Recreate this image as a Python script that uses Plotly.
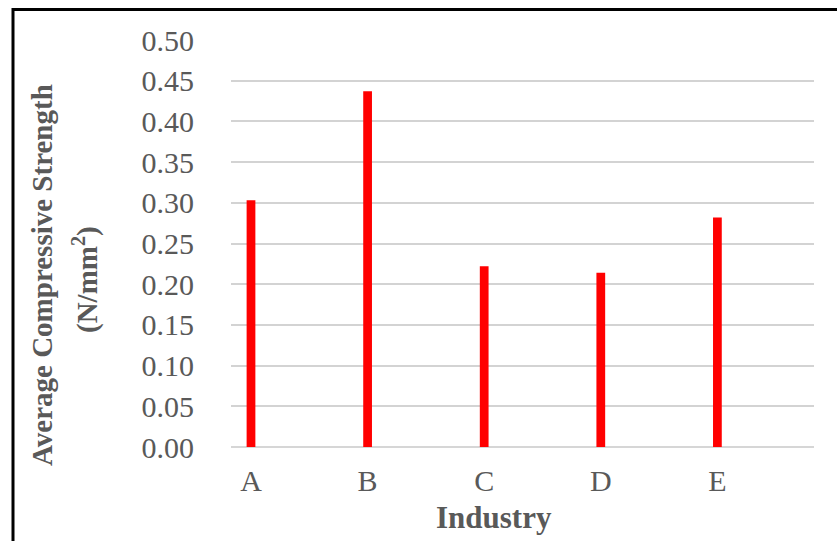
import plotly.graph_objects as go

industries = ["A", "B", "C", "D", "E"]
strength = [0.303, 0.437, 0.222, 0.214, 0.282]
y_ticks = [0.00, 0.05, 0.10, 0.15, 0.20, 0.25, 0.30, 0.35, 0.40, 0.45, 0.50]
y_tick_labels = [f"{v:.2f}" for v in y_ticks]

W, H = 837, 541
L, R, T, B = 231, 814, 40, 447

def px(xp):
    return (xp - L) / (R - L)

def py(yp):
    return (B - yp) / (B - T)

grey = "#595959"
font_family = "Liberation Serif, Times New Roman, serif"

fig = go.Figure()
fig.add_trace(go.Bar(
    x=industries, y=strength,
    marker=dict(color="#FF0000", line=dict(width=0)),
    width=0.075,
))

fig.update_layout(
    width=W, height=H,
    margin=dict(l=L, r=W - R, t=T, b=H - B),
    paper_bgcolor="white", plot_bgcolor="white",
    showlegend=False,
    font=dict(family=font_family, color=grey),
    xaxis=dict(
        type="category",
        range=[-0.1715, 4.8285],
        showgrid=False, zeroline=False, showline=False,
        ticks="", tickfont=dict(size=30, color=grey, family=font_family),
        ticklabelstandoff=13,
    ),
    yaxis=dict(
        range=[0, 0.5],
        tickvals=y_ticks, ticktext=y_tick_labels,
        showgrid=True, gridcolor="#d3d3d3", gridwidth=2,
        zeroline=True, zerolinecolor="#d6d6d6", zerolinewidth=2,
        showline=False, ticks="",
        tickfont=dict(size=30, color=grey, family=font_family),
        ticklabelstandoff=36,
    ),
    annotations=[
        dict(text="<b>Industry</b>", x=px(494), y=py(517), xref="paper", yref="paper",
             showarrow=False, xanchor="center", yanchor="middle",
             font=dict(size=31, color=grey, family=font_family)),
        dict(text="<b>Average Compressive Strength</b>",
             x=px(42), y=py(275), xref="paper", yref="paper", textangle=-90,
             showarrow=False, xanchor="center", yanchor="middle",
             font=dict(size=29, color=grey, family=font_family)),
        dict(text="<b>(N/mm<sup>2</sup>)</b>",
             x=px(85), y=py(280), xref="paper", yref="paper", textangle=-90,
             showarrow=False, xanchor="center", yanchor="middle",
             font=dict(size=29, color=grey, family=font_family)),
    ],
    shapes=[
        dict(type="line", xref="paper", yref="paper", x0=px(13), x1=px(837), y0=py(9.5), y1=py(9.5),
             line=dict(color="black", width=3)),
        dict(type="line", xref="paper", yref="paper", x0=px(13), x1=px(13), y0=py(8), y1=py(541),
             line=dict(color="black", width=3)),
    ],
)

fig.write_html("out.html")
